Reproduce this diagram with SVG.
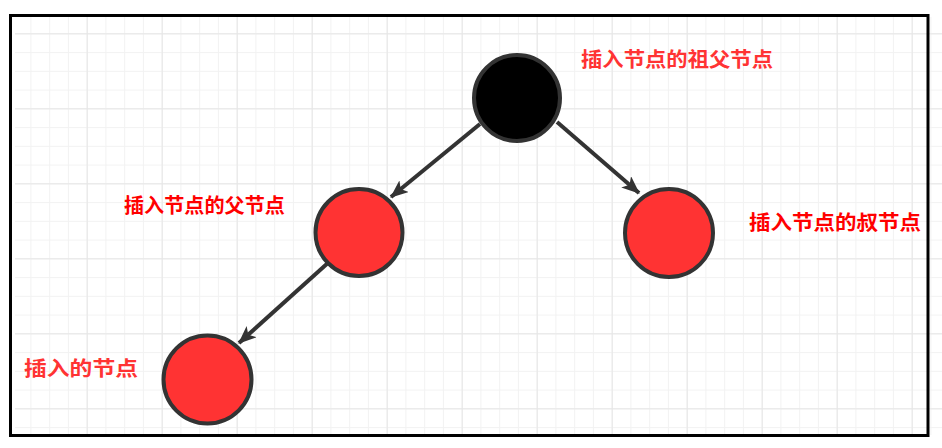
<svg xmlns="http://www.w3.org/2000/svg" width="942" height="448" viewBox="0 0 942 448">
<defs>
<pattern id="minor" x="11.67" y="14.58" width="18.75" height="18.75" patternUnits="userSpaceOnUse">
<path d="M0 0.5H18.75M0.5 0V18.75" fill="none" stroke="#f2f2f2" stroke-width="1"/>
</pattern>
<pattern id="major" x="11.67" y="33.33" width="75" height="75" patternUnits="userSpaceOnUse">
<path d="M0 0.5H75M0.5 0V75" fill="none" stroke="#e6e6e6" stroke-width="1"/>
</pattern>
<marker id="arrow" viewBox="0 0 18 15" refX="17" refY="7.5" markerWidth="18" markerHeight="15" markerUnits="userSpaceOnUse" orient="auto">
<path d="M0 0L18 7.5L0 15L4.5 7.5Z" fill="#333333"/>
</marker>
<style>
.node{stroke:#333333;stroke-width:4}
.red{fill:#ff3333}
.black{fill:#000000}
.edge{fill:none;stroke:#333333;stroke-width:4;marker-end:url(#arrow)}
.lbl{font-family:"Noto Sans CJK SC","Noto Sans",sans-serif;font-weight:700;font-size:20px}
</style>
</defs>
<rect width="942" height="448" fill="#ffffff"/>
<rect x="15" y="17" width="927" height="418" fill="url(#minor)"/>
<rect x="15" y="17" width="927" height="418" fill="url(#major)"/>
<rect x="10.5" y="15.5" width="917.5" height="420" fill="none" stroke="#000000" stroke-width="3"/>
<g id="connectors">
<path class="edge" d="M480 124L391 197"/>
<path class="edge" d="M557 122L639 193"/>
<path class="edge" d="M329 262L239 343"/>
</g>
<g id="grandparent">
<circle class="node black" cx="517" cy="98" r="43"/>
<text class="lbl" x="581" y="67" fill="#ff3333" textLength="192" lengthAdjust="spacingAndGlyphs">插入节点的祖父节点</text>
</g>
<g id="parent">
<circle class="node red" cx="359" cy="232.5" r="43.5"/>
<text class="lbl" x="124" y="213" fill="#ff0000" textLength="161" lengthAdjust="spacingAndGlyphs">插入节点的父节点</text>
</g>
<g id="uncle">
<circle class="node red" cx="669" cy="233" r="44"/>
<text class="lbl" x="749" y="230" fill="#ff0000" textLength="172" lengthAdjust="spacingAndGlyphs">插入节点的叔节点</text>
</g>
<g id="inserted">
<circle class="node red" cx="207.5" cy="379.5" r="44"/>
<text class="lbl" x="24" y="376" fill="#ff3333" textLength="114" lengthAdjust="spacingAndGlyphs">插入的节点</text>
</g>
</svg>
